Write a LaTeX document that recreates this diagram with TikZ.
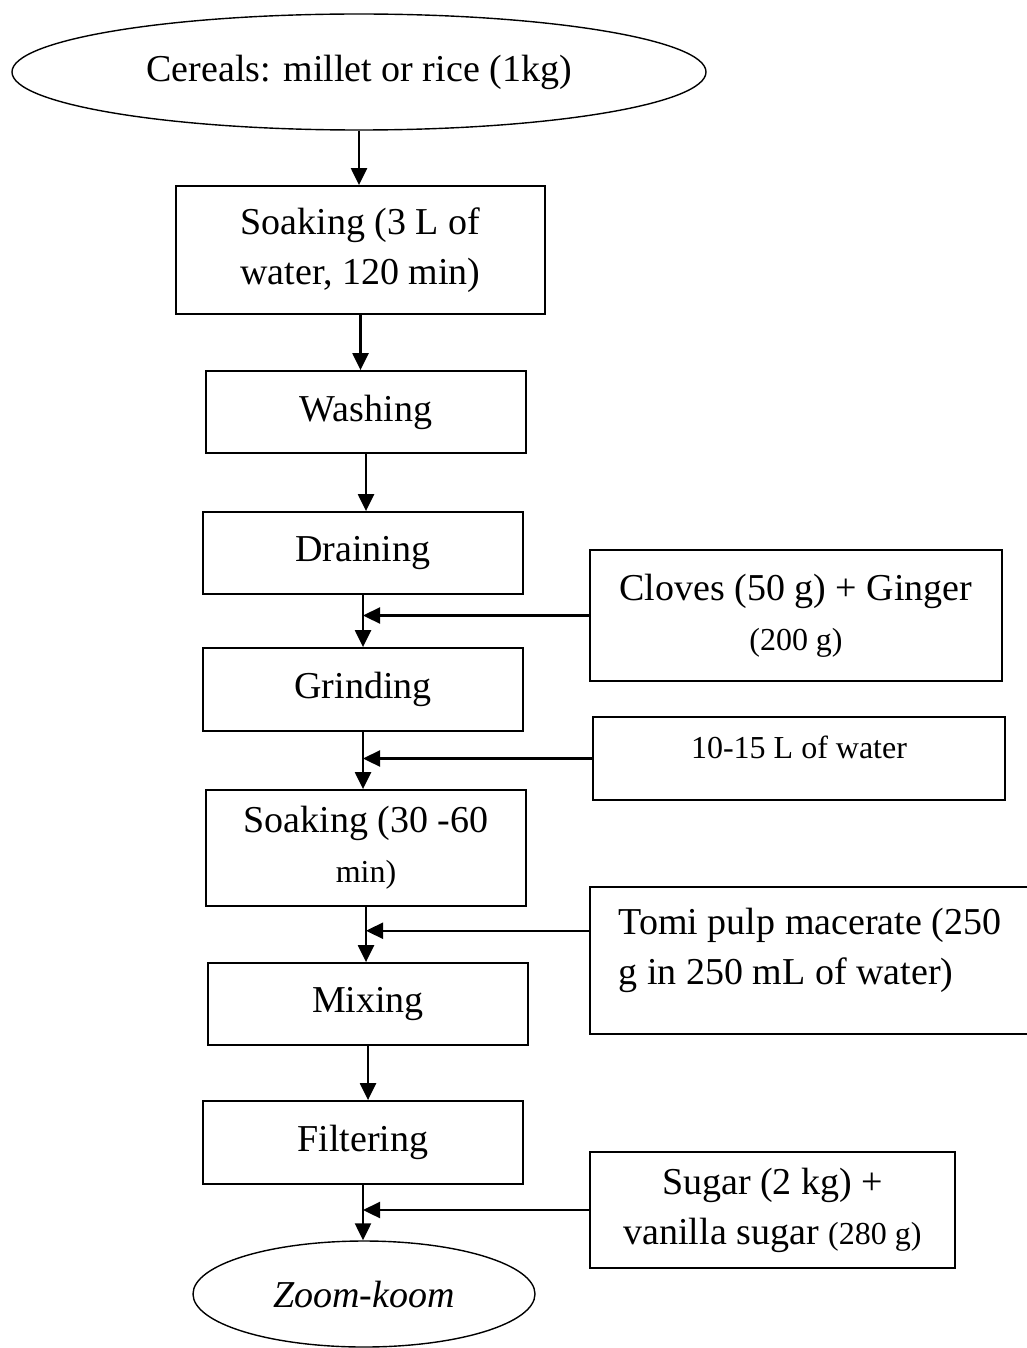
\documentclass[tikz,border=0pt]{standalone}
\usepackage{fontspec}
\setmainfont{Liberation Serif}
\usetikzlibrary{shapes.geometric,arrows.meta,calc}
\newcommand\bigf{\fontsize{38}{50}\selectfont}
\newcommand\smallf{\fontsize{32}{50}\selectfont}
\begin{document}
\begin{tikzpicture}[x=1pt,y=-1pt,
  box/.style={draw, line width=1.8pt, rectangle, inner sep=0pt, align=center, font=\bigf},
  oval/.style={draw, line width=1.4pt, ellipse, inner sep=0pt, font=\bigf},
  arr/.style={line width=2.3pt, -{Triangle[length=17pt,width=16pt]}}]
\useasboundingbox (0,0) rectangle (1026,1348);
% main column
\node[oval, minimum width=694pt, minimum height=116pt] (cereals) at (359,72) {Cereals: millet or rice (1kg)};
\node[box, minimum width=369pt, minimum height=128pt] (soak1) at (360.5,250) {Soaking (3 L of\\water, 120 min)};
\node[box, minimum width=320pt, minimum height=82pt] (wash) at (366,412) {Washing};
\node[box, minimum width=320pt, minimum height=82pt] (drain) at (363,553) {Draining};
\node[box, minimum width=320pt, minimum height=83pt] (grind) at (363,689.5) {Grinding};
\node[box, minimum width=320pt, minimum height=116pt] (soak2) at (366,848) {Soaking (30 -60\\{\smallf min)}};
\node[box, minimum width=320pt, minimum height=82pt] (mix) at (368,1004) {Mixing};
\node[box, minimum width=320pt, minimum height=83pt] (filt) at (363,1142.5) {Filtering};
\node[oval, minimum width=342pt, minimum height=106pt, font=\bigf\itshape] (zoom) at (364,1294) {Zoom-koom};
% side inputs
\node[box, minimum width=412pt, minimum height=131pt] (cloves) at (796,615.5) {Cloves (50 g) + Ginger\\{\smallf (200 g)}};
\node[box, minimum width=412pt, minimum height=83pt, font=\smallf, text depth=22pt] (water) at (799,758.5) {10-15 L of water};
\node[box, minimum width=440pt, minimum height=147pt, align=left, text depth=28pt] (tomi) at (810,960.5) {Tomi pulp macerate (250\\g in 250 mL of water)};
\node[box, minimum width=365pt, minimum height=116pt] (sugar) at (772.5,1210) {Sugar (2 kg) +\\vanilla sugar {\smallf (280 g)}};
% main connectors
\draw[arr] (cereals.south) -- (cereals.south |- soak1.north);
\draw[arr] (soak1.south) -- (soak1.south |- wash.north);
\draw[arr] (wash.south) -- (wash.south |- drain.north);
\draw[arr] (drain.south) -- (drain.south |- grind.north);
\draw[arr] (grind.south) -- (grind.south |- soak2.north);
\draw[arr] (soak2.south) -- (soak2.south |- mix.north);
\draw[arr] (mix.south) -- (mix.south |- filt.north);
\draw[arr] (filt.south) -- (filt.south |- zoom.north);
% side connectors
\coordinate (tomiin) at ($(tomi.north west)!0.3!(tomi.south west)$);
\draw[arr] (cloves.west) -- (cloves.west -| drain.south);
\draw[arr] (water.west) -- (water.west -| grind.south);
\draw[arr] (tomiin) -- (tomiin -| soak2.south);
\draw[arr] (sugar.west) -- (sugar.west -| filt.south);
\end{tikzpicture}
\end{document}
